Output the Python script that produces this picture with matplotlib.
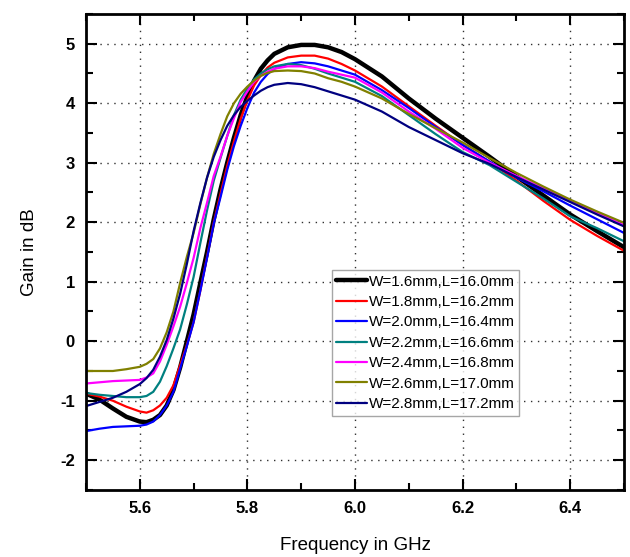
import matplotlib
matplotlib.use("Agg")
import matplotlib.pyplot as plt
from matplotlib.ticker import MultipleLocator

plt.rcParams['font.family'] = ['Liberation Sans', 'DejaVu Sans']
plt.rcParams['axes.unicode_minus'] = False

# frequency points (GHz), denser where the curves bend
freq = [5.50, 5.525, 5.55, 5.575, 5.60, 5.6125, 5.625, 5.6375, 5.65, 5.6625,
        5.675, 5.6875, 5.70, 5.7125, 5.725, 5.7375, 5.75, 5.7625, 5.775, 5.7875,
        5.80, 5.8125, 5.825, 5.8375, 5.85, 5.875, 5.90, 5.925, 5.95, 5.975,
        6.00, 6.05, 6.10, 6.15, 6.20, 6.25, 6.30, 6.35, 6.40, 6.45, 6.50]

gain_w16 = [-0.88, -0.98, -1.13, -1.27, -1.35, -1.36, -1.32, -1.24, -1.08, -0.82,
            -0.44, 0.00, 0.45, 0.98, 1.50, 2.05, 2.55, 3.00, 3.42, 3.80,
            4.12, 4.38, 4.58, 4.72, 4.83, 4.94, 4.98, 4.98, 4.94, 4.86,
            4.74, 4.45, 4.08, 3.74, 3.42, 3.10, 2.77, 2.45, 2.13, 1.85, 1.58]
gain_w18 = [-0.88, -0.93, -1.00, -1.10, -1.18, -1.20, -1.16, -1.08, -0.95, -0.74,
            -0.40, -0.06, 0.32, 0.85, 1.42, 2.00, 2.48, 2.95, 3.36, 3.74,
            4.05, 4.30, 4.47, 4.60, 4.68, 4.77, 4.80, 4.80, 4.75, 4.66,
            4.55, 4.28, 3.95, 3.62, 3.30, 3.02, 2.70, 2.36, 2.04, 1.77, 1.52]
gain_w20 = [-1.51, -1.47, -1.44, -1.43, -1.42, -1.40, -1.35, -1.24, -1.08, -0.85,
            -0.46, -0.08, 0.32, 0.85, 1.40, 1.98, 2.42, 2.88, 3.28, 3.62,
            3.92, 4.18, 4.36, 4.49, 4.58, 4.66, 4.69, 4.67, 4.62, 4.55,
            4.48, 4.22, 3.92, 3.60, 3.30, 3.02, 2.75, 2.52, 2.28, 2.05, 1.82]
gain_w22 = [-0.87, -0.90, -0.92, -0.94, -0.94, -0.92, -0.85, -0.68, -0.42, -0.12,
            0.20, 0.62, 1.08, 1.65, 2.20, 2.70, 3.08, 3.45, 3.80, 4.06,
            4.25, 4.40, 4.50, 4.57, 4.62, 4.66, 4.64, 4.58, 4.50, 4.43,
            4.36, 4.12, 3.80, 3.48, 3.18, 2.96, 2.68, 2.40, 2.10, 1.90, 1.68]
gain_w24 = [-0.71, -0.69, -0.67, -0.66, -0.65, -0.61, -0.54, -0.34, -0.06, 0.25,
            0.58, 0.98, 1.40, 1.90, 2.33, 2.78, 3.10, 3.45, 3.75, 4.02,
            4.20, 4.36, 4.46, 4.53, 4.58, 4.62, 4.62, 4.59, 4.53, 4.48,
            4.43, 4.18, 3.86, 3.57, 3.25, 3.00, 2.78, 2.57, 2.36, 2.16, 1.95]
gain_w26 = [-0.50, -0.50, -0.50, -0.47, -0.43, -0.38, -0.30, -0.12, 0.15, 0.50,
            0.98, 1.42, 1.82, 2.30, 2.75, 3.15, 3.48, 3.78, 4.00, 4.16,
            4.28, 4.38, 4.46, 4.51, 4.54, 4.55, 4.54, 4.50, 4.42, 4.36,
            4.28, 4.08, 3.82, 3.58, 3.34, 3.08, 2.83, 2.60, 2.38, 2.18, 1.99]
gain_w28 = [-1.09, -1.02, -0.95, -0.85, -0.72, -0.62, -0.48, -0.26, 0.02, 0.38,
            0.80, 1.30, 1.85, 2.32, 2.75, 3.10, 3.38, 3.62, 3.80, 3.94,
            4.04, 4.13, 4.21, 4.27, 4.31, 4.34, 4.32, 4.27, 4.20, 4.13,
            4.06, 3.86, 3.60, 3.38, 3.16, 2.98, 2.76, 2.55, 2.34, 2.13, 1.93]

labels = ['W=1.6mm,L=16.0mm', 'W=1.8mm,L=16.2mm', 'W=2.0mm,L=16.4mm',
          'W=2.2mm,L=16.6mm', 'W=2.4mm,L=16.8mm', 'W=2.6mm,L=17.0mm',
          'W=2.8mm,L=17.2mm']
series = [gain_w16, gain_w18, gain_w20, gain_w22, gain_w24, gain_w26, gain_w28]
colors = ['#000000', '#FF0000', '#0000FF', '#008080', '#FF00FF', '#808000', '#000080']
widths = [3.2, 1.6, 1.6, 1.6, 1.6, 1.6, 1.6]

fig = plt.figure(figsize=(6.3, 5.57), dpi=100)
ax = fig.add_axes([0.1365, 0.1203, 0.8540, 0.8546])

for g, lab, c, lw in zip(series, labels, colors, widths):
    ax.plot(freq, g, color=c, lw=lw, label=lab,
            solid_joinstyle='round', solid_capstyle='round')

ax.set_xlim(5.5, 6.5)
ax.set_ylim(-2.5, 5.5)
ax.xaxis.set_minor_locator(MultipleLocator(0.1))
ax.yaxis.set_minor_locator(MultipleLocator(0.5))
ax.set_xticks([5.6, 5.8, 6.0, 6.2, 6.4])
ax.set_xticklabels(['5.6', '5.8', '6.0', '6.2', '6.4'])
ax.set_yticks([-2, -1, 0, 1, 2, 3, 4, 5])

ax.tick_params(which='both', direction='in', top=True, right=True, width=1.5)
ax.tick_params(which='major', length=8, labelsize=12, pad=8)
ax.tick_params(which='minor', length=5)
for t in ax.get_xticklabels() + ax.get_yticklabels():
    t.set_fontweight('bold')
for s in ax.spines.values():
    s.set_linewidth(2)

ax.grid(True, which='major', color='#303030', linestyle=(0, (1, 4)), lw=1.0)

ax.set_xlabel('Frequency in GHz', fontsize=13.5, labelpad=15)
ax.set_ylabel('Gain in dB', fontsize=13.5, labelpad=16)

leg = ax.legend(loc='upper left', bbox_to_anchor=(0.457, 0.462), fontsize=11,
                frameon=True, fancybox=False, edgecolor='#909090',
                handlelength=2.0, handletextpad=0.1, labelspacing=0.42,
                borderpad=0.3, borderaxespad=0)
leg.get_frame().set_linewidth(1.0)

fig.savefig('out.png', dpi=100)
